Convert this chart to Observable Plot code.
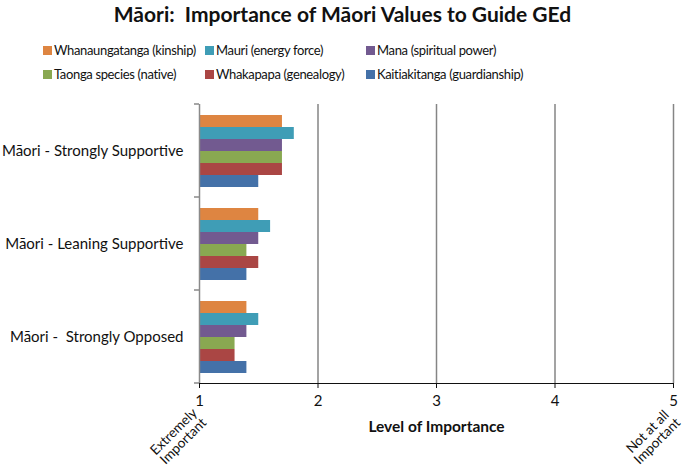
<!DOCTYPE html>
<html>
<head>
<meta charset="utf-8">
<script src="https://cdn.jsdelivr.net/npm/d3@7"></script>
<script src="https://cdn.jsdelivr.net/npm/@observablehq/plot@0.6"></script>
<style>
  body { margin: 0; background: #fff; font-family: Lato, sans-serif; }
  #wrap { width: 685px; }
  #title { height: 28px; line-height: 28px; text-align: center; font-weight: bold; font-size: 21px; white-space: pre; color: #111; }
  #legend { padding-top: 10px; padding-left: 43px; display: grid; grid-template-columns: 162px 161px auto; font-size: 13px; letter-spacing: -0.35px; color: #111; }
  .item { height: 24px; display: flex; align-items: center; white-space: nowrap; }
  .sw { width: 9px; height: 9px; margin-right: 2px; display: inline-block; }
  svg text { white-space: pre; }
</style>
</head>
<body>
<div id="wrap">
  <div id="title"></div>
  <div id="legend"></div>
  <div id="chart"></div>
</div>
<script>
const titleText = "Māori:  Importance of Māori Values to Guide GEd";
const categories = ["Māori - Strongly Supportive", "Māori - Leaning Supportive", "Māori -  Strongly Opposed"];
const seriesNames = ["Whanaungatanga (kinship)", "Mauri (energy force)", "Mana (spiritual power)",
                     "Taonga species (native)", "Whakapapa (genealogy)", "Kaitiakitanga (guardianship)"];
const seriesColors = ["#DE8541", "#3F9DB6", "#725A90", "#89A851", "#AA4644", "#4471A8"];
const whanaungatanga = [1.7, 1.5, 1.4];
const mauri          = [1.8, 1.6, 1.5];
const mana           = [1.7, 1.5, 1.4];
const taonga         = [1.7, 1.4, 1.3];
const whakapapa      = [1.7, 1.5, 1.3];
const kaitiakitanga  = [1.5, 1.4, 1.4];
const xTicks = [1, 2, 3, 4, 5];
const gridTicks = [2, 3, 4, 5];
const endLabels = [{v: 1, t: "Extremely\nImportant"}, {v: 5, t: "Not at all\nImportant"}];
const axisTitle = "Level of Importance";

const seriesValues = [whanaungatanga, mauri, mana, taonga, whakapapa, kaitiakitanga];
const data = [];
categories.forEach((c, ci) => seriesNames.forEach((s, si) => data.push({category: c, series: s, value: seriesValues[si][ci]})));

document.getElementById("title").textContent = titleText;
const legend = document.getElementById("legend");
seriesNames.forEach((name, i) => {
  const d = document.createElement("div"); d.className = "item";
  const sw = document.createElement("span"); sw.className = "sw"; sw.style.background = seriesColors[i];
  d.appendChild(sw); d.appendChild(document.createTextNode(name));
  legend.appendChild(d);
});

const lastCat = categories[categories.length - 1];
const chart = Plot.plot({
  width: 685,
  height: 385,
  marginTop: 17,
  marginBottom: 88,
  marginLeft: 199,
  marginRight: 12,
  style: {fontSize: "15px", fontFamily: "Lato, sans-serif", color: "#111", background: "#fff"},
  x: {domain: [1, 5], ticks: xTicks, tickFormat: d3.format("d"), tickSize: 5, tickPadding: 7, label: null, line: true},
  y: {domain: seriesNames, axis: null, paddingInner: 0, paddingOuter: 0.76},
  fy: {domain: categories, padding: 0, label: null, tickSize: 0, tickPadding: 16},
  color: {domain: seriesNames, range: seriesColors},
  marks: [
    Plot.ruleX(gridTicks, {stroke: "#858585", strokeWidth: 1.5}),
    Plot.barX(data, {fy: "category", y: "series", x1: 1, x2: "value", fill: "series"}),
    Plot.ruleX([1], {stroke: "#8a8a8a", strokeWidth: 1.5}),
    Plot.text(endLabels, {fy: () => lastCat, x: "v", text: "t", frameAnchor: "bottom", rotate: -45, dx: -21, dy: 53, fontSize: 13.5, lineAnchor: "middle", textAnchor: "middle"}),
    Plot.text([axisTitle], {fy: () => lastCat, text: d => d, frameAnchor: "bottom", dy: 44, fontSize: 15.5, fontWeight: "bold", lineAnchor: "middle"})
  ]
});
document.getElementById("chart").appendChild(chart);

try {
  const fyS = chart.scale("fy");
  const xS = chart.scale("x");
  const svg = d3.select(chart.tagName.toLowerCase() === "svg" ? chart : chart.querySelector("svg"));
  const x0 = xS.apply(1);
  const ys = categories.map(c => fyS.apply(c));
  ys.push(fyS.apply(lastCat) + fyS.bandwidth);
  svg.append("g").selectAll("line").data(ys).join("line")
    .attr("x1", x0 - 5).attr("x2", x0).attr("y1", d => d).attr("y2", d => d)
    .attr("stroke", "#8a8a8a").attr("stroke-width", 1.5);
} catch (e) { console.error(e); }
</script>
</body>
</html>
